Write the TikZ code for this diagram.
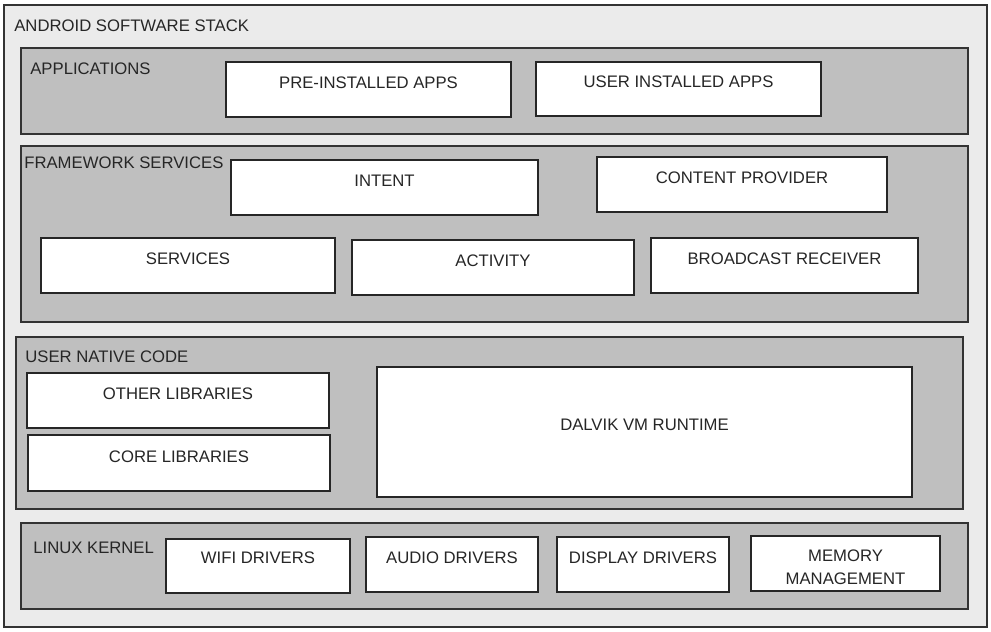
\documentclass[tikz,border=0pt]{standalone}
\usepackage{fontspec}
\setmainfont{Liberation Sans}
\usepackage{tikz}
\usetikzlibrary{positioning}

\begin{document}
\begin{tikzpicture}[x=0.02cm,y=-0.02cm,
  layer/.style={draw=black!80,line width=1pt,fill=black!25},
  blk/.style={draw=black!85,line width=1pt,fill=white},
  txt/.style={font=\fontsize{9.5}{13}\selectfont,text=black!85,inner sep=0pt},
  ttl/.style={txt,anchor=west}]
  \useasboundingbox (0,0) rectangle (991,632);
  \draw[fill=black!8,draw=black!80,line width=1pt] (4,5) rectangle (987,627);
  \node[ttl] (stack) at (14,26) {ANDROID SOFTWARE STACK};
  % the four layers
  \foreach \nm/\xa/\ya/\xb/\yb/\lx/\ly/\txt in {
      apps/21/48/968/134/30/69/APPLICATIONS,
      frame/21/146/968/322/24/163/FRAMEWORK SERVICES,
      native/16/337/963/509/25/357/USER NATIVE CODE,
      kernel/21/523/968/609/33/548/LINUX KERNEL}{
    \draw[layer] (\xa,\ya) rectangle (\xb,\yb);
    \node[ttl] (\nm) at (\lx,\ly) {\txt};
  }
  % blocks inside the layers
  \foreach \nm/\xa/\ya/\xb/\yb/\dy/\txt in {
      preapps/226/62/511/117/-7/PRE-INSTALLED APPS,
      userapps/536/62/821/116/-7/USER INSTALLED APPS,
      intent/231/160/538/215/-7/INTENT,
      provider/597/157/887/212/-7/CONTENT PROVIDER,
      services/41/238/335/293/-7/SERVICES,
      activity/352/240/634/295/-7/ACTIVITY,
      receiver/651/238/918/293/-7/BROADCAST RECEIVER,
      otherlib/27/373/329/428/-7/OTHER LIBRARIES,
      corelib/28/435/330/491/-6/CORE LIBRARIES,
      dalvik/377/367/912/497/-7/DALVIK VM RUNTIME,
      wifi/166/539/350/593/-8/WIFI DRIVERS,
      audio/366/537/538/592/-7/AUDIO DRIVERS,
      display/557/537/729/592/-7/DISPLAY DRIVERS,
      memory/751/536/940/591/4/{MEMORY\\MANAGEMENT}}{
    \draw[blk] (\xa,\ya) rectangle (\xb,\yb);
    \node[txt,align=center] (\nm) at ({(\xa+\xb)/2},{(\ya+\yb)/2+\dy}) {\txt};
  }
\end{tikzpicture}
\end{document}
